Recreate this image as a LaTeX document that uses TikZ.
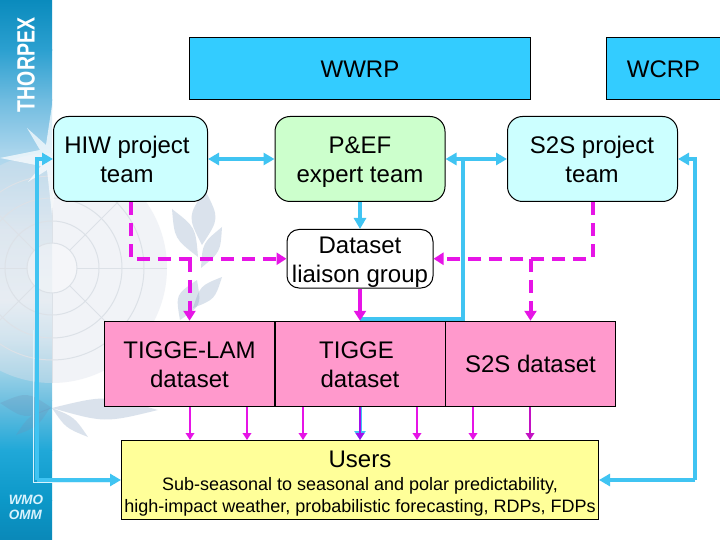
\documentclass[tikz,border=0pt]{standalone}
\usepackage{fontspec}
\setmainfont{Liberation Sans}
\usetikzlibrary{arrows.meta, calc}

\definecolor{wmoblue}{HTML}{33CCFF}
\definecolor{teamcyan}{HTML}{CCFFFF}
\definecolor{teamgreen}{HTML}{CCFFCC}
\definecolor{datapink}{HTML}{FF99CC}
\definecolor{usersyellow}{HTML}{FFFF99}
\definecolor{linkcyan}{HTML}{40C4F2}
\definecolor{linkmagenta}{HTML}{E614E6}
\definecolor{leafgray}{HTML}{6F8FB5}
\definecolor{discgray}{HTML}{DDE2EB}
\definecolor{globegray}{HTML}{DCE1E7}

\newcommand{\usersmall}{\fontsize{18}{22}\selectfont}
\newcommand{\linetop}{\rule{0pt}{24pt}}
\newcommand{\linebot}{\rule[-5.5pt]{0pt}{5.5pt}}

\tikzset{
	box/.style={draw=black, line width=1pt, inner sep=0pt, align=center, font=\fontsize{24}{29}\selectfont},
	bodybox/.style={box, fill=wmoblue, minimum height=62pt},
	teambox/.style={box, rounded corners=15pt, minimum height=85pt},
	databox/.style={box, fill=datapink, minimum width=170pt, minimum height=85pt},
	cyanlink/.style={linkcyan, line width=4pt, -{Triangle[length=11pt, width=12pt]}},
	cyanboth/.style={linkcyan, line width=4pt, {Triangle[length=11pt, width=12pt]}-{Triangle[length=11pt, width=12pt]}},
	dashlink/.style={linkmagenta, line width=4pt, dash pattern=on 13pt off 8pt, -{Triangle[length=10pt, width=12pt]}},
	userlink/.style={linkmagenta, line width=2.5pt, -{Triangle[length=7pt, width=8.5pt]}}
}

\begin{document}
\begin{tikzpicture}[x=1pt, y=-1pt]

	\clip (0, 0) rectangle (720, 540);
	\fill[white] (0, 0) rectangle (720, 540);

	\foreach \ya/\yb/\ca/\cb in {0/50/0A8BBD/2CA0D0, 50/100/2CA0D0/70BCE0, 100/150/70BCE0/A8D4EC, 150/230/A8D4EC/DDEAF2, 230/300/DDEAF2/EEF4F8, 300/340/EEF4F8/C8E4F0, 340/400/C8E4F0/70C0E0, 400/450/70C0E0/20A8D8, 450/500/20A8D8/0C98C8, 500/540/0C98C8/0A88B8} {
		\definecolor{shadetop}{HTML}{\ca}
		\definecolor{shadebot}{HTML}{\cb}
		\shade[top color=shadetop, bottom color=shadebot] (0, \ya) rectangle (52, \yb + 0.5);
	}

	\fill[discgray, opacity=0.4] (52, 268) circle (115pt);
	\fill[white, opacity=0.3] (52, 268) circle (25pt);
	\foreach \r in {25, 47, 70, 92}
		\draw[globegray, line width=1pt] (52, 268) circle (\r pt);
	\foreach \a in {0, 45, ..., 315}
		\draw[globegray, line width=1pt] (52, 268) ++(\a:25pt) -- ++(\a:90pt);

	\foreach \ax/\ay/\bx/\by/\w in {172/209/198/257/12, 205/190/202/245/16, 222/227/201/268/10, 222/277/193/308/10, 180/320/197/280/14, 52/408/158/410/14, 0/403/52/408/14, 52/408/88/437/7, 50/408/16/435/7}
		\fill[leafgray, opacity=0.25] (\ax, \ay) .. controls ($(\ax, \ay)!.5!(\bx, \by)!\w pt!90:(\bx, \by)$) .. (\bx, \by) .. controls ($(\ax, \ay)!.5!(\bx, \by)!\w pt!-90:(\bx, \by)$) .. (\ax, \ay) -- cycle;

	\fill[white, opacity=0.7] (52, 105) -- (57, 150) -- (62, 158) -- (57, 165) -- (52, 215) -- (47, 170) -- (28, 182) -- (41, 166) -- (0, 158) -- (40, 150) -- (27, 128) -- (46, 145) -- cycle;

	\node[white, rotate=90, font=\bfseries\fontsize{25}{25}\selectfont] (thorpex) at (26, 65) {\scalebox{0.78}[1]{THORPEX}};
	\node[white!85!cyan, align=left, inner sep=0pt, font=\bfseries\itshape\fontsize{13.5}{15}\selectfont] (wmo) at (26, 507) {WMO\\OMM};

	\node[bodybox, minimum width=341pt] (wwrp) at (360, 68.25) {\linetop\linebot WWRP};
	\node[bodybox, minimum width=117pt] (wcrp) at (665, 68.25) {\linetop\linebot WCRP\hspace*{3pt}};

	\node[teambox, fill=teamcyan, minimum width=154pt] (hiw) at (130.5, 159) {\linetop HIW project\hspace*{7pt}\\team\hspace*{7pt}\linebot};
	\node[teambox, fill=teamgreen, minimum width=170pt] (pef) at (360, 159) {\linetop P\&EF\\expert team\linebot};
	\node[teambox, fill=teamcyan, minimum width=170pt] (s2steam) at (592.5, 159) {\linetop S2S project\hspace*{1pt}\\team\hspace*{1pt}\linebot};

	\node[box, fill=white, rounded corners=12pt, minimum width=146pt, minimum height=57pt] (liaison) at (360, 258.75) {\linetop Dataset\\liaison group\linebot};

	\node[databox] (tiggelam) at (189.5, 363.75) {\linetop TIGGE-LAM\\dataset\linebot};
	\node[databox] (tigge) at (360, 363.75) {\linetop TIGGE\hspace*{7pt}\\dataset\linebot};
	\node[databox] (s2sdata) at (530.5, 363.75) {S2S dataset};

	\node[box, fill=usersyellow, minimum width=477pt, minimum height=78.5pt] (users) at (360, 479.75) {\linetop Users\\[-6pt]\usersmall Sub-seasonal to seasonal and polar predictability,\\[-7pt]\usersmall high-impact weather, probabilistic forecasting, RDPs, FDPs};

	\draw[cyanboth] (hiw.east) -- (pef.west);
	\draw[cyanboth] (pef.east) -- (s2steam.west);
	\draw[cyanlink] (pef.south) -- (liaison.north);

	\coordinate (branch) at (463, 159);
	\draw[linkcyan, line width=4pt] (branch) |- ([yshift=2pt]tigge.north);

	\coordinate (leftbend) at (36.5, 480);
	\coordinate (rightbend) at (695, 480);
	\draw[white!80!linkcyan, line width=1.5pt] (33.5, 330) |- (112, 482.5);
	\draw[cyanlink] (leftbend) |- (hiw.west);
	\draw[cyanlink] (leftbend) -- (users.west |- leftbend);
	\draw[cyanlink] (rightbend) |- (s2steam.east);
	\draw[cyanlink] (rightbend) -- (users.east |- rightbend);

	\draw[dashlink] (hiw.south) |- (liaison.west);
	\draw[dashlink] (s2steam.south) |- (liaison.east);
	\draw[dashlink] (tiggelam.north |- liaison.west) -- (tiggelam.north);
	\draw[dashlink] (s2sdata.north |- liaison.east) -- (s2sdata.north);
	\draw[linkmagenta, line width=4pt, -{Triangle[length=10pt, width=12pt]}] (liaison.south) -- (tigge.north);

	\draw[linkcyan, line width=3pt, -{Triangle[length=9pt, width=11pt]}] (tigge.south) -- (users.north);
	\foreach \x in {190, 247, 303, 417, 473}
		\draw[userlink] (\x, 0 |- tigge.south) -- (\x, 0 |- users.north);
	\draw[userlink, draw=linkmagenta!70!blue] (tigge.south) -- (users.north);
	\draw[userlink, draw=linkmagenta!85!black] (530, 0 |- s2sdata.south) -- (530, 0 |- users.north);

\end{tikzpicture}
\end{document}
